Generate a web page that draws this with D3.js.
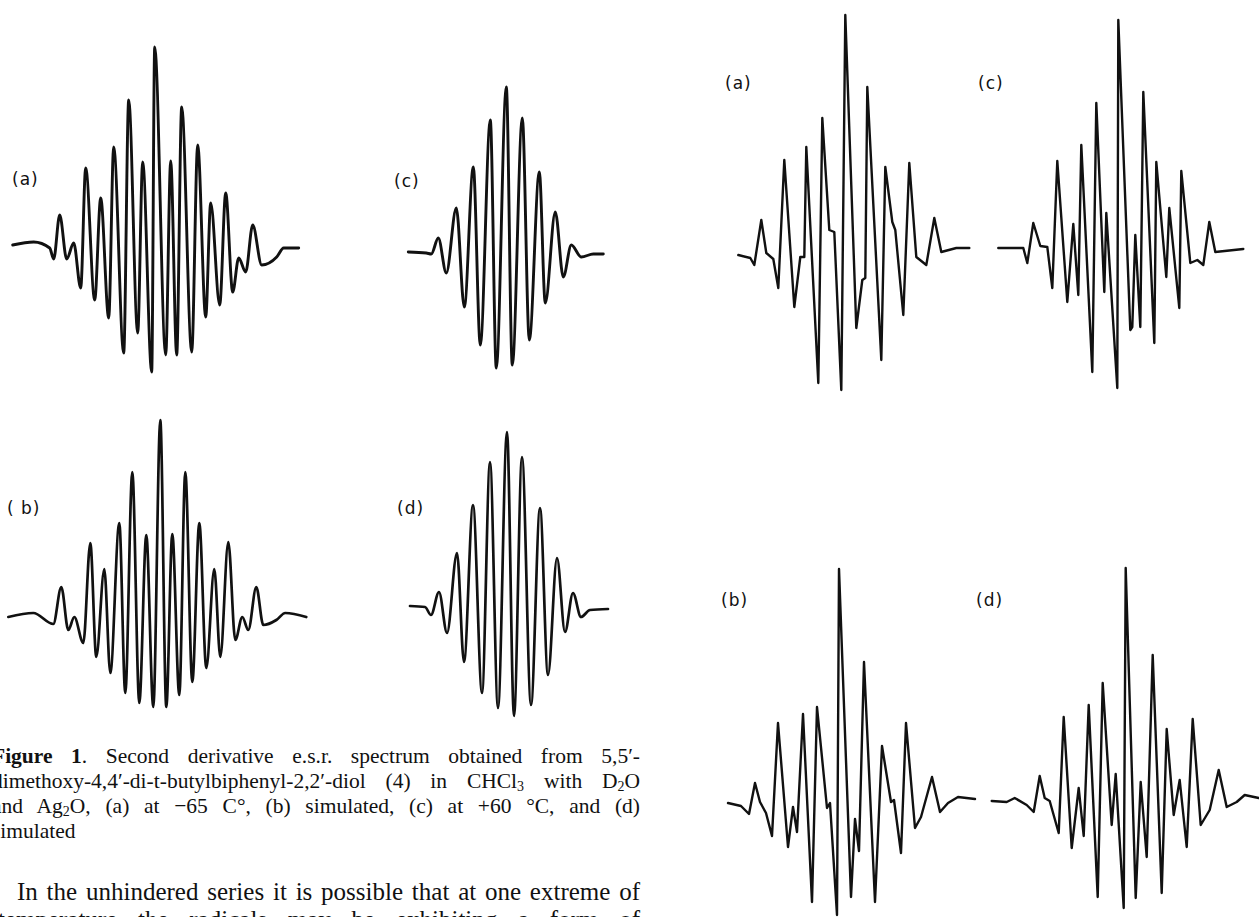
<!DOCTYPE html>
<html><head><meta charset="utf-8">
<script src="https://cdn.jsdelivr.net/npm/d3@7"></script>
<style>body{margin:0;background:#fff}svg{display:block}</style>
</head><body>
<svg id="chart" width="1259" height="917"></svg>
<script>
// ---- Spectrum data: field offset (arb. units) and second-derivative signal (arb. units) ----
// Left figure, (a) at -65 C
const fieldLeftA  = [0,21,37,41,47,54,61,68,73,82,88,96,101,111,116,125,130,139,142,153,158,164,169,179,185,193,198,207,213,220,226,233,240,249,264,271,286];
const signalLeftA = [2,5,-1,-12,32,-12,4,-41,79,-53,49,-71,100,-106,147,-86,85,-125,200,-108,86,-108,140,-105,102,-70,44,-58,54,-45,-11,-25,22,-18,-10,-1,-1];
// Left figure, (c) at +60 C
const fieldLeftC  = [0,18,23,30,38,48,56,65,72,82,88,98,104,114,121,131,137,147,155,163,173,185,195];
const signalLeftC = [1,0,-1,15,-20,45,-54,86,-92,133,-115,166,-112,135,-87,81,-50,41,-24,8,-4,-1,-1];
// Left figure, (b) simulated
const fieldLeftB  = [0,25,45,53,60,66,75,82,88,96,102,111,117,124,131,138,145,152,158,164,171,177,184,191,198,206,212,220,227,234,240,248,255,268,277,298];
const signalLeftB = [0,4,-7,30,-13,0,-26,74,-40,48,-56,94,-76,145,-86,82,-90,197,-90,83,-78,145,-65,94,-51,48,-40,75,-23,0,-13,30,-8,-3,4,0];
// Left figure, (d) simulated
const fieldLeftD  = [0,15,21,29,37,47,54,63,72,80,88,97,104,112,121,130,138,147,155,163,171,180,198];
const signalLeftD = [1,0,-8,15,-26,54,-55,102,-86,145,-101,175,-109,150,-98,99,-68,49,-25,14,-10,-3,-2];
// Right figure, (a)
const fieldRightA  = [0,12,16,23,28,35,40,46,56,62,66,68,80,84,91,96,103,107,118,124,127,129,143,147,154,157,165,171,178,188,196,203,218,231];
const signalRightA = [-3,-6,-13,32,-1,-7,-36,92,-55,-5,-5,105,-131,134,22,20,-138,237,-76,-28,-26,165,-108,85,30,22,-63,89,-5,-13,34,0,4,4];
// Right figure, (c)
const fieldRightC  = [0,25,29,35,42,49,54,59,69,75,80,83,94,98,106,108,119,120,132,134,137,142,145,156,158,168,171,181,183,192,199,205,211,217,245];
const signalRightC = [0,0,-15,25,2,1,-40,87,-54,24,-47,103,-124,145,-44,35,-140,228,-82,-79,13,-79,156,-95,86,-29,40,-60,77,-15,-12,-17,26,-4,-1];
// Right figure, (b)
const fieldRightB  = [0,13,21,27,32,38,44,50,60,65,69,75,84,89,99,102,109,111,123,127,131,136,147,154,163,166,173,178,187,193,204,212,220,230,247];
const signalRightB = [0,-3,-11,20,1,-10,-33,80,-44,-4,-29,89,-99,96,-5,0,-112,234,-94,-16,-48,141,-99,57,1,3,-50,80,-25,-14,26,-9,0,6,4];
// Right figure, (d)
const fieldRightD  = [0,15,23,35,42,48,53,58,67,72,80,87,92,97,106,111,120,124,132,134,144,149,155,161,170,175,182,188,195,201,209,218,227,235,245,253,267];
const signalRightD = [0,-1,3,-4,-11,25,3,0,-32,84,-47,13,-35,96,-96,118,-24,27,-107,233,-97,19,-56,146,-92,72,-14,21,-46,82,-24,-9,31,-6,-1,6,3];

// ---- Texts ----
const panelLabels = ["(a)", "(c)", "( b)", "(d)", "(a)", "(c)", "(b)", "(d)"];
const captionLines = [
  [["Figure 1", "b"], [". Second derivative e.s.r. spectrum obtained from 5,5\u2032-"]],
  [["dimethoxy-4,4\u2032-di-t-butylbiphenyl-2,2\u2032-diol (4) in CHCl"], ["3", "sub"], [" with D"], ["2", "sub"], ["O"]],
  [["and Ag"], ["2", "sub"], ["O, (a) at \u221265 C\u00b0, (b) simulated, (c) at +60 \u00b0C, and (d)"]],
  [["simulated"]]
];
const paragraphLines = [
  "In the unhindered series it is possible that at one extreme of",
  "temperature the radicals may be exhibiting a form of"
];

// ---- Drawing ----
const svg = d3.select("#chart");
svg.append("rect").attr("width", 1259).attr("height", 917).attr("fill", "#fff");

const smooth = d3.curveMonotoneX, sharp = d3.curveLinear;
const panels = [
  {field: fieldLeftA,  signal: signalLeftA,  x0: 12.7,  base: 247, lw: 2.9, curve: smooth, lx: 12,  ly: 185},
  {field: fieldLeftC,  signal: signalLeftC,  x0: 408.3, base: 253, lw: 2.9, curve: smooth, lx: 394, ly: 187},
  {field: fieldLeftB,  signal: signalLeftB,  x0: 8.3,   base: 617, lw: 2.7, curve: smooth, lx: 7,   ly: 514},
  {field: fieldLeftD,  signal: signalLeftD,  x0: 410,   base: 607, lw: 2.7, curve: smooth, lx: 397, ly: 514},
  {field: fieldRightA, signal: signalRightA, x0: 738.3, base: 252, lw: 2.4, curve: sharp,  lx: 725, ly: 89},
  {field: fieldRightC, signal: signalRightC, x0: 998.3, base: 248, lw: 2.4, curve: sharp,  lx: 978, ly: 89},
  {field: fieldRightB, signal: signalRightB, x0: 728,   base: 803, lw: 2.4, curve: sharp,  lx: 721, ly: 606},
  {field: fieldRightD, signal: signalRightD, x0: 991.7, base: 801, lw: 2.4, curve: sharp,  lx: 976, ly: 606}
];

panels.forEach((p, k) => {
  const fmax = d3.max(p.field);
  const x = d3.scaleLinear().domain([0, fmax]).range([p.x0, p.x0 + fmax]);
  const y = d3.scaleLinear().domain([0, 100]).range([p.base, p.base - 100]);
  const line = d3.line()
    .x((d, i) => x(p.field[i]))
    .y(d => y(d))
    .curve(p.curve);
  svg.append("path")
    .datum(p.signal)
    .attr("d", line)
    .attr("fill", "none")
    .attr("stroke", "#111")
    .attr("stroke-width", p.lw)
    .attr("stroke-linejoin", "round")
    .attr("stroke-linecap", "round");
  svg.append("text")
    .attr("x", p.lx).attr("y", p.ly)
    .attr("font-family", "DejaVu Sans, sans-serif")
    .attr("font-size", 17)
    .attr("letter-spacing", 1)
    .attr("fill", "#111")
    .text(panelLabels[k]);
});

// justified text lines
function textLine(segs, x, yPos, size, target) {
  const t = svg.append("text")
    .attr("x", x).attr("y", yPos)
    .attr("font-family", "Liberation Serif, Times New Roman, serif")
    .attr("font-size", size)
    .attr("fill", "#111");
  let shifted = false;
  segs.forEach(s => {
    const ts = t.append("tspan").text(s[0]);
    if (s[1] === "b") ts.attr("font-weight", "bold");
    if (s[1] === "sub") { ts.attr("font-size", size * 0.65).attr("dy", 3); shifted = true; }
    else if (shifted) { ts.attr("dy", -3); shifted = false; }
  });
  if (target) {
    const full = segs.map(s => s[0]).join("");
    const spaces = (full.match(/ /g) || []).length;
    const w = t.node().getComputedTextLength();
    if (spaces > 0) t.attr("word-spacing", (target - w) / spaces);
  }
  return t;
}
const capX = -8, capRight = 640;
captionLines.forEach((segs, i) => {
  textLine(segs, capX, 763 + i * 25, 21.5, i < 3 ? capRight - capX : null);
});
paragraphLines.forEach((ln, i) => {
  textLine([[ln]], i === 0 ? 17 : -2, 900 + i * 28, 25, i === 0 ? capRight - 17 : capRight + 2);
});
</script>
</body></html>
